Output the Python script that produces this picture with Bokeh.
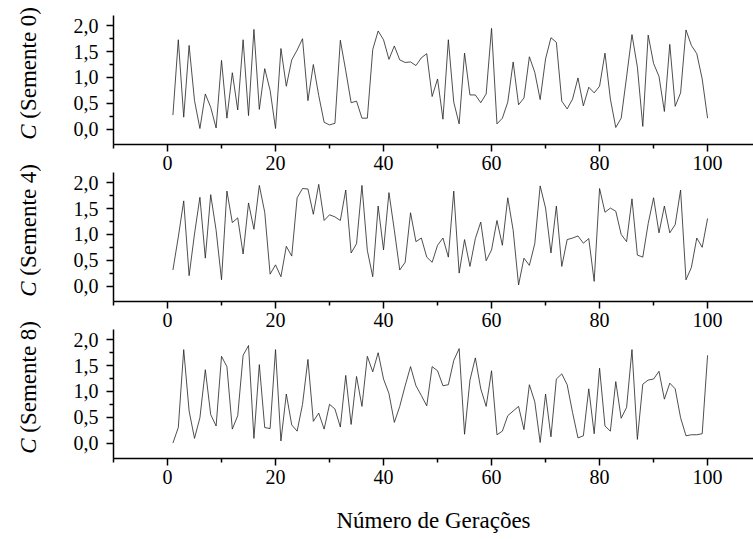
from bokeh.plotting import figure
from bokeh.layouts import column, row
from bokeh.models import Range1d, FixedTicker, CustomJSTickFormatter, Div
from bokeh.embed import file_html
from bokeh.resources import INLINE

geracoes = list(range(1, 101))

semente_0 = [0.27, 1.73, 0.23, 1.62, 0.55, 0.01, 0.68, 0.42, 0.02, 1.33,
             0.21, 1.09, 0.37, 1.73, 0.26, 1.93, 0.38, 1.17, 0.75, 0.01,
             1.56, 0.83, 1.34, 1.53, 1.75, 0.55, 1.25, 0.65, 0.13, 0.08,
             0.11, 1.72, 1.13, 0.51, 0.54, 0.21, 0.21, 1.54, 1.90, 1.73,
             1.35, 1.61, 1.34, 1.29, 1.30, 1.23, 1.38, 1.46, 0.63, 0.97,
             0.19, 1.73, 0.52, 0.10, 1.47, 0.66, 0.66, 0.51, 0.68, 1.95,
             0.10, 0.21, 0.52, 1.30, 0.47, 0.60, 1.40, 1.10, 0.57, 1.36,
             1.77, 1.68, 0.54, 0.39, 0.58, 0.99, 0.45, 0.81, 0.70, 0.83,
             1.47, 0.58, 0.03, 0.21, 1.01, 1.83, 1.20, 0.05, 1.82, 1.27,
             1.02, 0.34, 1.64, 0.44, 0.70, 1.92, 1.62, 1.46, 0.97, 0.21]

semente_4 = [0.31, 0.95, 1.65, 0.20, 1.01, 1.72, 0.54, 1.77, 1.08, 0.12,
             1.84, 1.23, 1.32, 0.62, 1.61, 1.10, 1.95, 1.43, 0.23, 0.41,
             0.18, 0.77, 0.58, 1.71, 1.89, 1.88, 1.39, 1.97, 1.27, 1.38,
             1.34, 1.27, 1.86, 0.64, 0.82, 1.95, 0.69, 0.18, 1.55, 0.70,
             1.81, 1.08, 0.31, 0.46, 1.42, 0.86, 0.93, 0.56, 0.46, 0.79,
             0.93, 0.56, 1.84, 0.25, 0.90, 0.38, 0.92, 1.24, 0.49, 0.70,
             1.27, 0.79, 1.71, 1.08, 0.02, 0.54, 0.40, 0.82, 1.94, 1.51,
             0.64, 1.55, 0.38, 0.90, 0.93, 0.97, 0.83, 0.92, 0.09, 1.89,
             1.43, 1.51, 1.45, 1.00, 0.86, 1.69, 0.60, 0.56, 1.21, 1.71,
             1.03, 1.55, 1.03, 1.19, 1.86, 0.12, 0.36, 0.93, 0.75, 1.31]

semente_8 = [0.00, 0.30, 1.81, 0.62, 0.09, 0.49, 1.42, 0.55, 0.33, 1.68,
             1.48, 0.27, 0.53, 1.70, 1.89, 0.09, 1.52, 0.30, 0.28, 1.81,
             0.04, 0.95, 0.35, 0.23, 0.75, 1.62, 0.42, 0.58, 0.27, 0.75,
             0.66, 0.31, 1.31, 0.36, 1.29, 0.71, 1.68, 1.38, 1.75, 1.24,
             0.96, 0.40, 0.71, 1.11, 1.48, 1.11, 0.92, 0.72, 1.48, 1.40,
             1.11, 1.13, 1.60, 1.83, 0.17, 1.22, 1.65, 1.05, 0.71, 1.40,
             0.16, 0.23, 0.53, 0.62, 0.71, 0.26, 1.13, 0.80, 0.01, 0.95,
             0.12, 1.24, 1.34, 1.13, 0.59, 0.10, 0.14, 1.05, 0.18, 1.45,
             0.33, 0.23, 1.19, 0.48, 0.69, 1.81, 0.07, 1.14, 1.22, 1.24,
             1.39, 0.85, 1.16, 1.05, 0.49, 0.14, 0.16, 0.16, 0.18, 1.70]

series = [semente_0, semente_4, semente_8]
sementes = ["0", "4", "8"]

x_major = [0, 20, 40, 60, 80, 100]
x_minor = [-10, 10, 30, 50, 70, 90]
y_major = [0.0, 0.5, 1.0, 1.5, 2.0]
y_minor = [0.25, 0.75, 1.25, 1.75]

FONT = "Liberation Serif"
LABEL_W = 56


def make_panel(vals, top, last):
    p = figure(frame_width=640, frame_height=129,
               x_range=Range1d(-10, 108.5), y_range=Range1d(-0.3, 2.2),
               output_backend="svg", toolbar_location=None,
               min_border_left=113 - LABEL_W, min_border_right=0,
               min_border_top=top, min_border_bottom=0)
    p.outline_line_color = None
    p.xgrid.visible = False
    p.ygrid.visible = False
    p.background_fill_color = "white"
    p.border_fill_color = "white"

    p.line(geracoes, vals, line_color="#222222", line_width=0.8)

    for ax in (p.xaxis[0], p.yaxis[0]):
        ax.axis_line_width = 1.5
        ax.axis_line_color = "black"
        ax.major_tick_line_width = 1.5
        ax.minor_tick_line_width = 1.5
        ax.major_tick_line_color = "black"
        ax.minor_tick_line_color = "black"
        ax.major_tick_in = 0
        ax.minor_tick_in = 0
        ax.major_tick_out = 7
        ax.minor_tick_out = 4
        ax.major_label_text_font = FONT
        ax.major_label_text_color = "black"

    p.xaxis.ticker = FixedTicker(ticks=x_major, minor_ticks=x_minor)
    p.yaxis.ticker = FixedTicker(ticks=y_major, minor_ticks=y_minor)
    p.yaxis.formatter = CustomJSTickFormatter(
        code="return tick.toFixed(1).replace('.', ',');")
    p.xaxis.major_label_text_font_size = "20px"
    p.yaxis.major_label_text_font_size = "20px"
    p.xaxis.major_label_standoff = 4
    p.yaxis.major_label_standoff = 8

    if last:
        p.xaxis.axis_label = "Número de Gerações"
        p.xaxis.axis_label_text_font = FONT
        p.xaxis.axis_label_text_font_style = "normal"
        p.xaxis.axis_label_text_font_size = "23px"
        p.xaxis.axis_label_text_color = "black"
        p.xaxis.axis_label_standoff = 21
    return p


def y_title(semente, box_h):
    html = (
        '<div style="display:flex;align-items:center;justify-content:center;'
        'width:%dpx;height:%dpx;">'
        '<span style="writing-mode:vertical-rl;transform:rotate(180deg);'
        "font-family:'Liberation Serif';font-size:23px;color:#000;"
        'white-space:nowrap;line-height:1;">'
        '<i>C</i> (Semente %s)</span></div>'
    ) % (LABEL_W, box_h, semente)
    return Div(text=html, width=LABEL_W, height=box_h, margin=0)


rows = []
for k, (vals, s) in enumerate(zip(series, sementes)):
    top = 15 if k == 0 else 0
    fig = make_panel(vals, top, k == 2)
    rows.append(row(y_title(s, 2 * (top + 58)), fig, spacing=0))

layout = column(*rows, spacing=0)
open("out.html", "w").write(file_html(layout, INLINE))
